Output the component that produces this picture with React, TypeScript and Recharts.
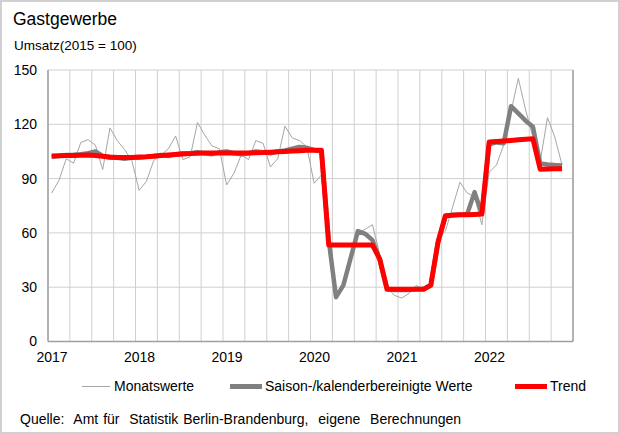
import React from 'react';
import { LineChart, Line, XAxis, YAxis, CartesianGrid } from 'recharts';

const FONT = '"Liberation Sans", Arial, sans-serif';

const yearLabels = ['2017', '2018', '2019', '2020', '2021', '2022'];
const yTicks = [0, 30, 60, 90, 120, 150];

// Monthly values Jan 2017 .. Nov 2022
const monatswerte = [
  82, 89, 101, 98.5, 110, 111.5, 108.5, 95, 118, 111, 106, 100,
  83.5, 88.5, 100, 103, 106.5, 113.5, 100.5, 102, 121, 114, 108, 106.5,
  86.5, 93, 103, 100.5, 111, 109.5, 96.5, 101, 119, 112.5, 111, 107.5,
  87.4, 92, 55, 25, 31, 45, 60, 62, 64.5, 48, 30, 25.5,
  24, 26.5, 31, 28.5, 31, 57, 61, 74.5, 88, 82, 80, 64.5,
  93.5, 97.5, 108.6, 127, 145.4, 128, 113, 99.3, 123.7, 113, 97.5,
];

const saisonbereinigt = [
  102, 102.5, 103, 103.2, 103.5, 104, 105, 102.5, 101.5, 101.5, 101, 101.5,
  101.5, 102, 102.5, 103, 102.5, 103.5, 104, 104, 104.5, 104, 103.5, 104.5,
  105, 104, 103.5, 104, 105, 104.5, 104, 105, 105.5, 106.5, 107.5, 107,
  105.8, 105, 56, 24.5, 31, 46, 61, 59.5, 56, 45, 29, 28.5,
  28.5, 28.5, 29, 29, 31, 55, 69, 70, 70, 70.5, 82.5, 70.5,
  109, 110, 109.5, 130, 126, 122, 118.7, 98.4, 97.8, 97.5, 97.3,
];

const trend = [
  102.5, 102.6, 102.7, 102.8, 102.9, 103, 102.8, 102.3, 101.9, 101.7, 101.6, 101.7,
  101.9, 102.1, 102.4, 102.7, 103, 103.3, 103.6, 103.8, 104, 104.1, 104.1, 104.1,
  104.1, 104.1, 104.1, 104.2, 104.3, 104.4, 104.6, 104.8, 105, 105.2, 105.4, 105.6,
  105.7, 105.7, 53.3, 53.3, 53.3, 53.3, 53.3, 53.3, 53.3, 45.5, 28.8, 28.8,
  28.8, 28.8, 28.8, 28.8, 31.2, 55.2, 69.5, 69.8, 70, 70, 70.2, 70.4,
  110.2, 110.5, 110.8, 111.1, 111.4, 111.7, 112, 95.2, 95.3, 95.4, 95.5,
];

const data = monatswerte.map((v, i) => ({
  t: i + 0.5,
  m: v,
  s: saisonbereinigt[i],
  tr: trend[i],
}));

const xTicks = Array.from({ length: 25 }, (_, i) => i * 3);

const fmtX = (v: number) =>
  v % 12 === 0 && v / 12 < yearLabels.length ? yearLabels[v / 12] : '';

const GRID = '#cfcfcf';
const AXIS = '#a0a0a0';
const C_M = '#a6a6a6';
const C_S = '#808080';
const C_T = '#ff0000';

const abs = (left: number, top: number, extra: React.CSSProperties = {}): React.CSSProperties => ({
  position: 'absolute',
  left,
  top,
  whiteSpace: 'pre',
  ...extra,
});

export default function App() {
  const tickStyle = { fontSize: 14, fill: '#000', fontFamily: FONT };
  return (
    <div
      style={{
        position: 'absolute',
        left: 0,
        top: 0,
        width: 620,
        height: 434,
        background: '#fff',
        fontFamily: FONT,
        color: '#000',
        overflow: 'hidden',
      }}
    >
      <div style={abs(13, 9, { fontSize: 17.5, lineHeight: '20px' })}>Gastgewerbe</div>
      <div style={abs(14, 37.5, { fontSize: 13.5, lineHeight: '16px' })}>Umsatz(2015 = 100)</div>

      <div style={abs(0, 0)}>
        <LineChart
          width={620}
          height={434}
          data={data}
          margin={{ top: 70, right: 0, bottom: 62.5, left: 0 }}
        >
          <CartesianGrid stroke={GRID} strokeWidth={1} yAxisId="left" />
          <XAxis
            dataKey="t"
            type="number"
            domain={[0, 72]}
            ticks={xTicks}
            interval={0}
            tickFormatter={fmtX}
            tickLine={false}
            axisLine={{ stroke: AXIS, strokeWidth: 1.5 }}
            tick={{ ...tickStyle, dx: 4 }}
            tickMargin={5}
            height={30}
          />
          <YAxis
            yAxisId="left"
            orientation="left"
            domain={[0, 150]}
            ticks={yTicks}
            interval={0}
            tickLine={false}
            axisLine={{ stroke: AXIS, strokeWidth: 1.5 }}
            tick={tickStyle}
            tickMargin={5}
            width={48}
          />
          <YAxis
            yAxisId="right"
            orientation="right"
            domain={[0, 150]}
            ticks={yTicks}
            interval={0}
            tickLine={false}
            axisLine={{ stroke: AXIS, strokeWidth: 1.5 }}
            tick={tickStyle}
            tickMargin={11}
            width={47}
          />
          <Line
            yAxisId="left"
            dataKey="m"
            type="linear"
            stroke={C_M}
            strokeWidth={1}
            dot={false}
            isAnimationActive={false}
          />
          <Line
            yAxisId="left"
            dataKey="s"
            type="linear"
            stroke={C_S}
            strokeWidth={4.5}
            strokeLinejoin="round"
            dot={false}
            isAnimationActive={false}
          />
          <Line
            yAxisId="left"
            dataKey="tr"
            type="linear"
            stroke={C_T}
            strokeWidth={5}
            strokeLinejoin="round"
            dot={false}
            isAnimationActive={false}
          />
        </LineChart>
      </div>

      {/* Legend */}
      <div style={abs(82, 385.5, { width: 28, height: 1, background: C_M })} />
      <div style={abs(114, 378, { fontSize: 14, lineHeight: '16px' })}>Monatswerte</div>
      <div style={abs(230, 384, { width: 32, height: 4.5, background: C_S })} />
      <div style={abs(265, 378, { fontSize: 14, lineHeight: '16px' })}>Saison-/kalenderbereinigte Werte</div>
      <div style={abs(515, 383.5, { width: 32, height: 5, background: C_T })} />
      <div style={abs(550, 378, { fontSize: 14, lineHeight: '16px' })}>Trend</div>

      <div style={abs(20, 411, { fontSize: 14, lineHeight: '16px', wordSpacing: 1 })}>
        {'Quelle:  Amt für  Statistik Berlin-Brandenburg,  eigene  Berechnungen'}
      </div>

      <div
        style={{
          position: 'absolute',
          left: 0,
          top: 0,
          width: 620,
          height: 434,
          boxSizing: 'border-box',
          border: '2px solid #d0d0d0',
          pointerEvents: 'none',
        }}
      />
    </div>
  );
}
